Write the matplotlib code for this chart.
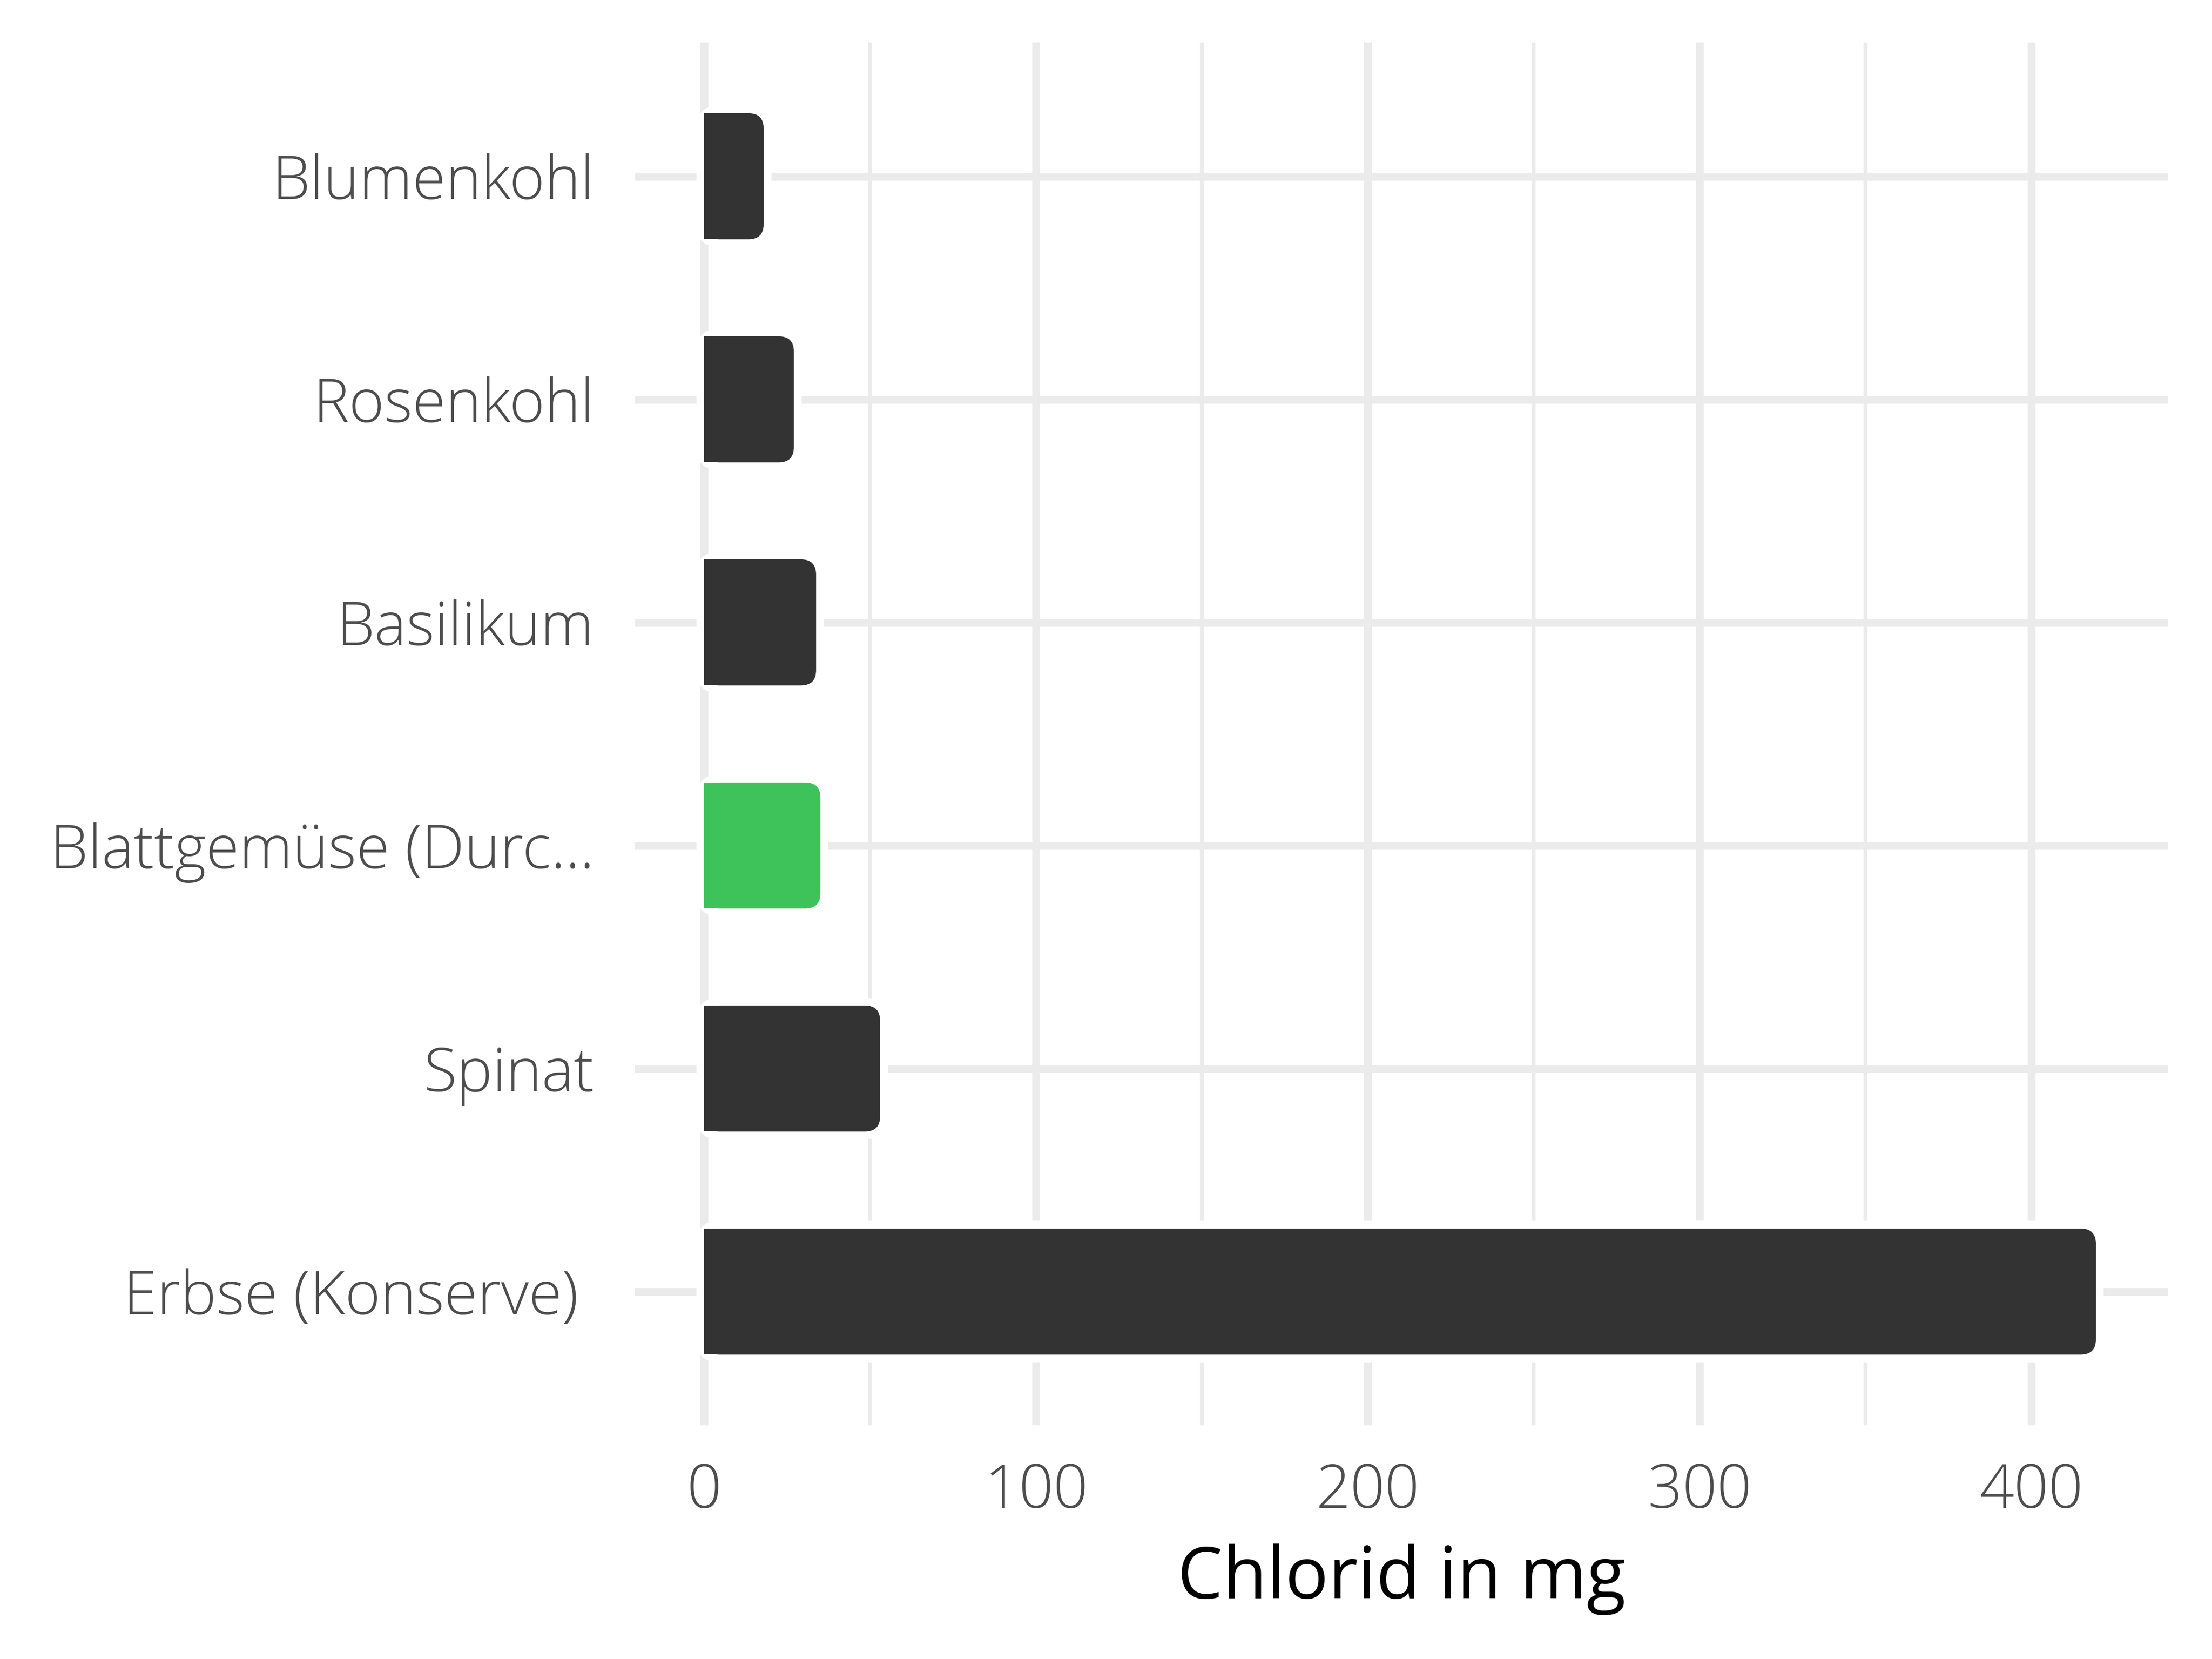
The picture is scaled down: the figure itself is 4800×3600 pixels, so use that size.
import matplotlib
matplotlib.use("Agg")
import matplotlib.pyplot as plt
from matplotlib.patches import FancyBboxPatch, Rectangle

categories = ["Erbse (Konserve) ", "Spinat", "Blattgemüse (Durc...", "Basilikum", "Rosenkohl", "Blumenkohl"]
values = [419.5, 53.0, 35.0, 33.7, 27.0, 17.9]
highlight = [False, False, True, False, False, False]

plt.rcParams['font.family'] = ['Open Sans', 'DejaVu Sans']

fig = plt.figure(figsize=(16, 12), dpi=300)
ax = fig.add_axes([0.2869, 0.1408, 0.6933, 0.8336])
xmin, xmax = -21, 441.3
ax.set_xlim(xmin, xmax)
ax.set_ylim(-0.6, len(categories) - 0.4)

# pixels per data unit
ax_w_px = 0.6933 * 4800
ax_h_px = 0.8336 * 3600
px_x = ax_w_px / (xmax - xmin)
px_y = ax_h_px / (len(categories) - 0.4 + 0.6)

grid_col = "#EBEBEB"
for v in [0, 100, 200, 300, 400]:
    ax.axvline(v, color=grid_col, lw=4.1, zorder=0.5)
for v in [50, 150, 250, 350]:
    ax.axvline(v, color=grid_col, lw=2.0, zorder=0.5)
for i in range(len(categories)):
    ax.axhline(i, color=grid_col, lw=4.1, zorder=0.5)

bar_h = 0.565
r_px = 33
rx = r_px / px_x
ry = r_px / px_y
aspect = ry / rx
gap_x = 17 / px_x
gap_y = 17 / px_y

for i, (v, hl) in enumerate(zip(values, highlight)):
    col = "#3DC35A" if hl else "#333333"
    halo = FancyBboxPatch((-gap_x, i - bar_h / 2 - gap_y), v + 2 * gap_x, bar_h + 2 * gap_y,
                          boxstyle=f"round,pad=0,rounding_size={rx + gap_x}",
                          mutation_aspect=aspect, fc="white", ec="none", zorder=1)
    ax.add_patch(halo)
    bar = FancyBboxPatch((0, i - bar_h / 2), v, bar_h,
                         boxstyle=f"round,pad=0,rounding_size={rx}",
                         mutation_aspect=aspect, fc=col, ec="none", zorder=2)
    ax.add_patch(bar)
    sq = Rectangle((0, i - bar_h / 2), v / 2, bar_h, fc=col, ec="none", zorder=2)
    ax.add_patch(sq)

ax.set_yticks(range(len(categories)))
ax.set_yticklabels(categories, fontweight="light")
ax.set_xticks([0, 100, 200, 300, 400])
ax.set_xticklabels(["0", "100", "200", "300", "400"], fontweight="light")
ax.tick_params(axis='both', length=0, colors="#4D4D4D", labelsize=31.5)
ax.tick_params(axis='y', pad=21)
ax.tick_params(axis='x', pad=19)
for s in ax.spines.values():
    s.set_visible(False)
ax.set_xlabel("Chlorid in mg", fontsize=37.5, color="black", labelpad=11)

fig.savefig("out.png", dpi=300, facecolor="white")
